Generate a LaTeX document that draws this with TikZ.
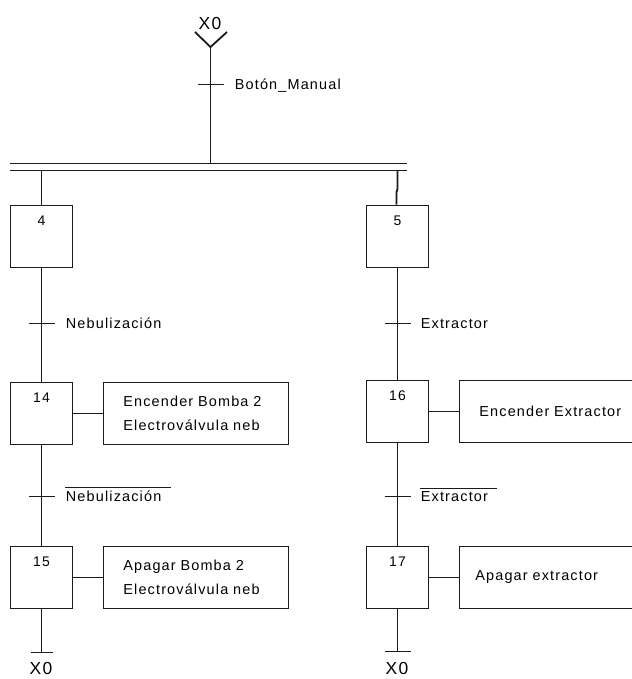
\documentclass[tikz,border=0pt]{standalone}
\usepackage{fontspec}
\setmainfont{Liberation Sans}[LetterSpace=8]
\newcommand\acttext{\fontsize{14.5}{24}\selectfont}
\newcommand\numtext{\fontsize{14}{16}\selectfont}
\newcommand\xtext{\fontsize{17.5}{19}\selectfont}
\definecolor{ink}{HTML}{1A1A1A}
\begin{document}
\begin{tikzpicture}[x=1bp,y=-1bp,line width=1.8bp,draw=ink,
  stepbox/.style={draw=ink,minimum width=62bp,minimum height=62bp,inner sep=0pt},
  num/.style={anchor=north,inner sep=0pt,yshift=-10.5bp,font=\numtext},
  actbox/.style={draw=ink,minimum height=62bp,inner xsep=20bp,inner ysep=0pt,align=left,anchor=west,font=\acttext},
  trlabel/.style={anchor=base west,inner sep=0pt,font=\acttext},
  xlabel/.style={inner sep=0pt,font=\xtext}]
\clip (0,0) rectangle (632,679);
% top
\node[xlabel] (x0top) at (210,23.5) {X0};
\coordinate (v) at (210.5,47);
\coordinate (vl) at (195,32);
\coordinate (vr) at (227,32);
\draw (vl) -- (v) -- (vr);
% double bar
\coordinate (b1l) at (10,163.5); \coordinate (b1r) at (407,163.5);
\coordinate (b2l) at (10,170.5); \coordinate (b2r) at (407,170.5);
\draw (b1l) -- (b1r);
\draw (b2l) -- (b2r);
\coordinate (t0) at (210.5,84.5);
\draw (v) -- (v |- b1l);
\draw ([xshift=-13bp]t0) -- ([xshift=13bp]t0);
\node[trlabel] (l0) at (234,89.5) {Botón\_Manual};
% steps
\node[stepbox,label={[num]north:4}] (s4) at (41.5,236.5) {};
\node[stepbox,label={[num]north:5}] (s5) at (397.5,236.5) {};
\node[stepbox,label={[num]north:14}] (s14) at (41.5,413.5) {};
\node[stepbox,label={[num]north:16}] (s16) at (397.5,411.5) {};
\node[stepbox,label={[num]north:15}] (s15) at (41.5,577.5) {};
\node[stepbox,label={[num]north:17}] (s17) at (397.5,577.5) {};
% actions
\node[actbox,text width=145bp] (a14) at (102.5,413.5) {Encender Bomba 2\\Electroválvula neb};
\node[actbox,text width=160bp] (a16) at (458.5,411.5) {Encender Extractor};
\node[actbox,text width=145bp] (a15) at (102.5,577.5) {Apagar Bomba 2\\Electroválvula neb};
\node[actbox,text width=160bp,inner xsep=16bp] (a17) at (458.5,577.5) {Apagar extractor};
\draw (s14) -- (a14);
\draw (s16) -- (a16);
\draw (s15) -- (a15);
\draw (s17) -- (a17);
% links
\draw (s4.north |- b2l) -- (s4.north);
\coordinate (k1) at (397.5,189);
\coordinate (k2) at (396.5,192);
\draw (s5.north |- b2l) -- (k1) -- (k2) -- (k2 |- s5.north);
\draw (s4) -- (s14);
\draw (s14) -- (s15);
\draw (s5) -- (s16);
\draw (s16) -- (s17);
% transitions left
\coordinate (t1) at (41.5,323.5);
\coordinate (t2) at (41.5,496.5);
\draw ([xshift=-13bp]t1) -- ([xshift=13bp]t1);
\draw ([xshift=-13bp]t2) -- ([xshift=13bp]t2);
\node[trlabel] (l1) at (65,328.5) {Nebulización};
\node[trlabel] (l2) at (65,501.5) {Nebulización};
\draw[line width=1.2bp] ([yshift=2.5bp]l2.north west) -- ([xshift=9bp,yshift=2.5bp]l2.north east);
% transitions right
\coordinate (t3) at (397.5,323.5);
\coordinate (t4) at (397.5,496.5);
\draw ([xshift=-13bp]t3) -- ([xshift=13bp]t3);
\draw ([xshift=-13bp]t4) -- ([xshift=13bp]t4);
\node[trlabel] (l3) at (420,328.5) {Extractor};
\node[trlabel] (l4) at (420,501.5) {Extractor};
\draw[line width=1.2bp] ([yshift=2.5bp]l4.north west) -- ([xshift=8bp,yshift=2.5bp]l4.north east);
% ends
\coordinate (e1) at (41.5,652.5);
\coordinate (e2) at (397.5,651.5);
\draw (s15) -- (e1);
\draw (s17) -- (e2);
\draw ([xshift=-11bp]e1) -- ([xshift=11bp]e1);
\draw ([xshift=-13bp]e2) -- ([xshift=13bp]e2);
\node[xlabel] (x0l) at (41,668) {X0};
\node[xlabel] (x0r) at (397,668) {X0};
\end{tikzpicture}
\end{document}
